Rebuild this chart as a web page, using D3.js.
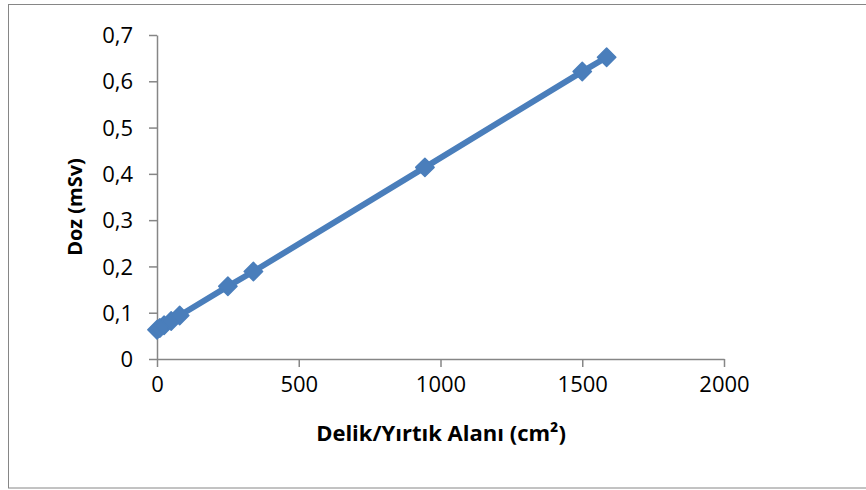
<!DOCTYPE html>
<html><head><meta charset="utf-8">
<script src="https://cdn.jsdelivr.net/npm/d3@7"></script>
<style>body{margin:0;background:#fff}svg{display:block}</style>
</head><body>
<script>
const areaValues = [0, 10, 25, 50, 80, 250, 340, 945, 1500, 1586];
const doseValues = [0.063, 0.067, 0.073, 0.082, 0.094, 0.157, 0.189, 0.414, 0.621, 0.652];
const xTicks = [0, 500, 1000, 1500, 2000];
const yTicks = [0, 0.1, 0.2, 0.3, 0.4, 0.5, 0.6, 0.7];
const xTitle = "Delik/Yırtık Alanı (cm²)";
const yTitle = "Doz (mSv)";

const W = 866, H = 490;
const svg = d3.select("body").append("svg").attr("width", W).attr("height", H);
svg.append("rect").attr("x", 8.5).attr("y", 4.5).attr("width", 860).attr("height", 483.5)
  .attr("fill", "#fff").attr("stroke", "#868686").attr("stroke-width", 1);

const x = d3.scaleLinear().domain([0, 2000]).range([157, 724]);
const y = d3.scaleLinear().domain([0, 0.7]).range([359, 35]);
const font = "'Open Sans', sans-serif";
const axisColor = "#868686";

const xAxis = svg.append("g").attr("transform", `translate(0,${y(0)})`)
  .call(d3.axisBottom(x).tickValues(xTicks).tickSize(8).tickSizeOuter(0).tickPadding(9).tickFormat(d3.format("d")));
const yAxis = svg.append("g").attr("transform", `translate(${x(0)},0)`)
  .call(d3.axisLeft(y).tickValues(yTicks).tickSize(8).tickSizeOuter(0).tickPadding(16)
    .tickFormat(d => d === 0 ? "0" : d3.format(".1f")(d).replace(".", ",")));
[xAxis, yAxis].forEach(g => {
  g.select(".domain").attr("stroke", axisColor).attr("stroke-width", 1.5);
  g.selectAll(".tick line").attr("stroke", axisColor).attr("stroke-width", 1.5);
  g.selectAll("text").attr("fill", "#000").style("font-family", font).style("font-size", "22px");
});
yAxis.selectAll("text").attr("dy", "0.35em");

const pts = areaValues.map((a, i) => [a, doseValues[i]]);
svg.append("path").datum(pts)
  .attr("fill", "none").attr("stroke", "#4A7EBB").attr("stroke-width", 6)
  .attr("stroke-linejoin", "round")
  .attr("d", d3.line().x(d => x(d[0])).y(d => y(d[1])));
svg.append("g").selectAll("path").data(pts).join("path")
  .attr("transform", d => `translate(${x(d[0])},${y(d[1])}) rotate(45)`)
  .attr("d", "M-6.5,-6.5H6.5V6.5H-6.5Z")
  .attr("fill", "#4A7EBB").attr("stroke", "#4A7EBB").attr("stroke-width", 1.5).attr("stroke-linejoin", "round");

svg.append("text").attr("x", 441).attr("y", 441).attr("text-anchor", "middle")
  .style("font-family", font).style("font-size", "22px").style("font-weight", "bold").text(xTitle);
svg.append("text").attr("transform", "translate(82,207) rotate(-90)").attr("text-anchor", "middle")
  .style("font-family", font).style("font-size", "20px").style("font-weight", "bold").text(yTitle);
</script>
</body></html>
